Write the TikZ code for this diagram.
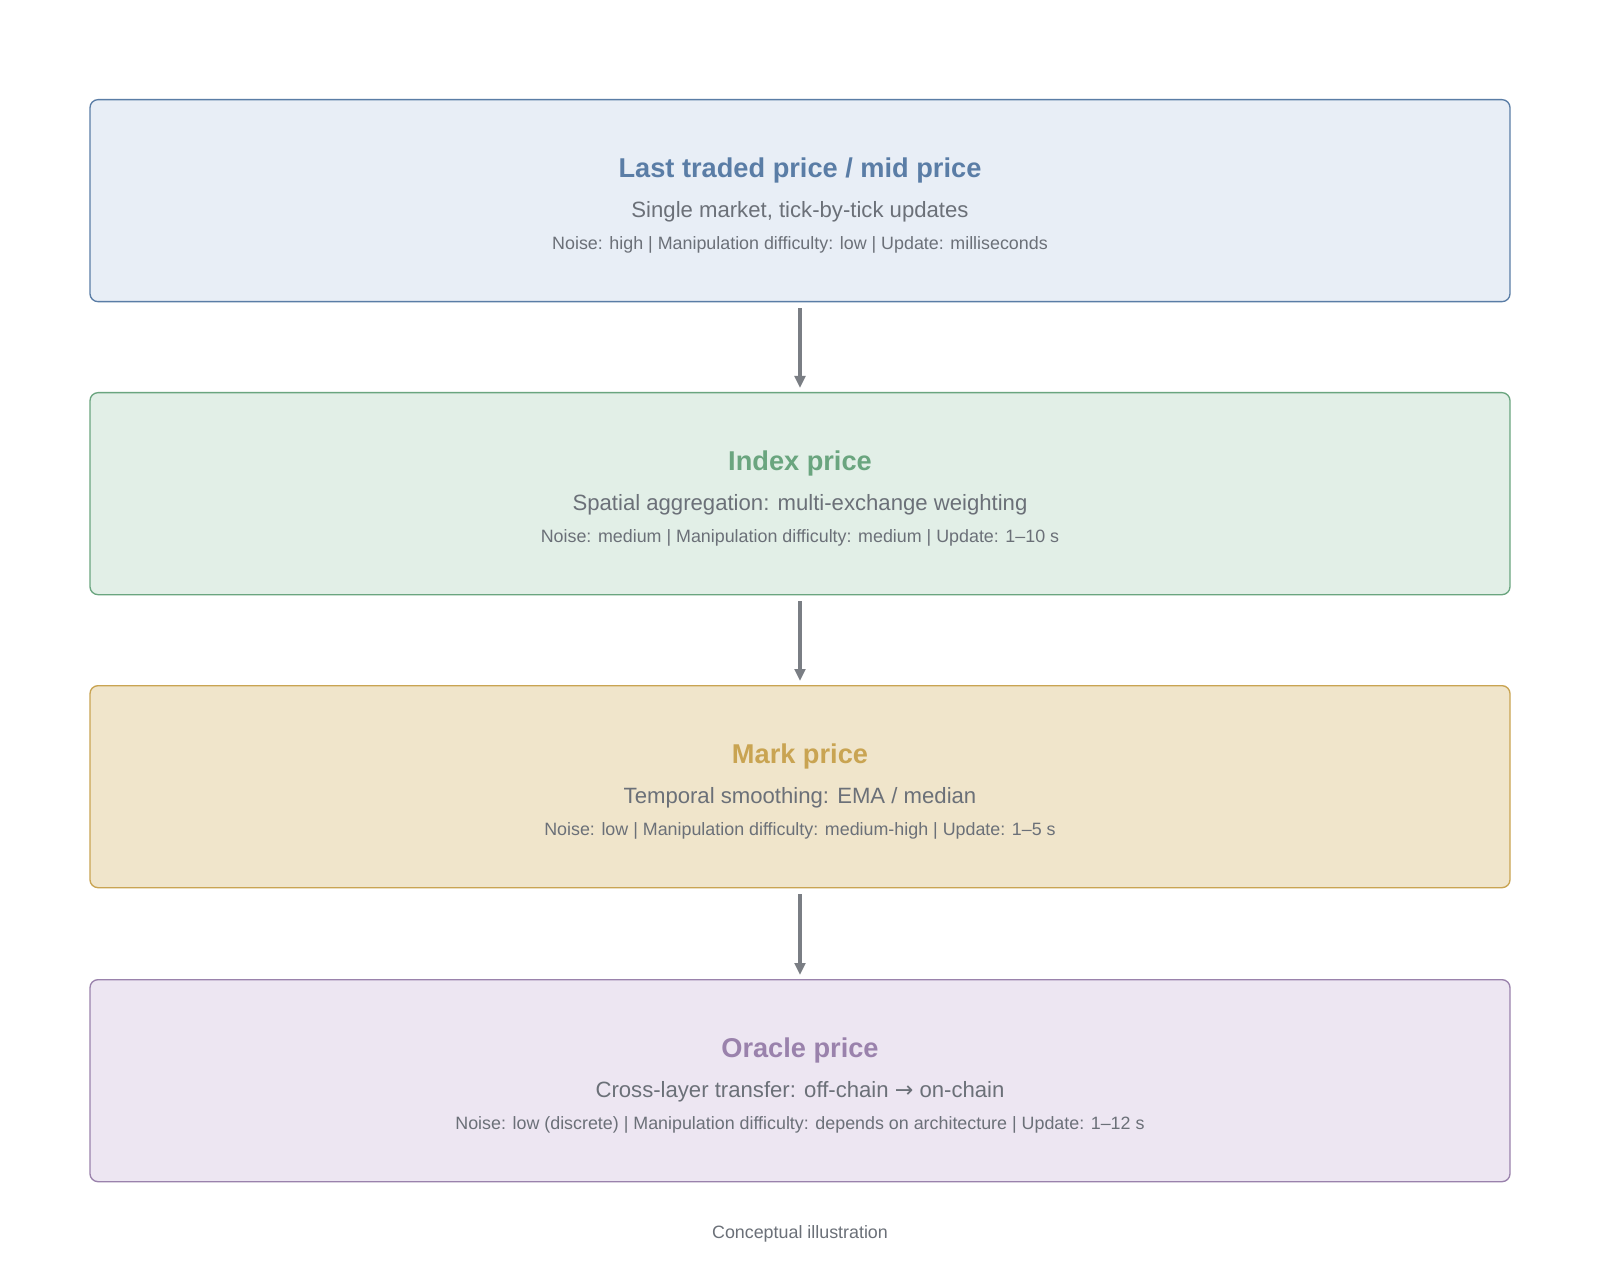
\documentclass[tikz,border=0pt]{standalone}
\usepackage{fontspec}
\setmainfont{Liberation Sans}
\newfontfamily\arrfont{DejaVu Sans}
\usetikzlibrary{arrows.meta}
\definecolor{txt}{HTML}{6B7078}
\definecolor{arr}{HTML}{7A7E84}
\definecolor{bA}{HTML}{E8EEF6}\definecolor{dA}{HTML}{5A7DA6}
\definecolor{bB}{HTML}{E2EFE7}\definecolor{dB}{HTML}{6AA57F}
\definecolor{bC}{HTML}{F0E5CB}\definecolor{dC}{HTML}{C9A452}
\definecolor{bD}{HTML}{EDE6F2}\definecolor{dD}{HTML}{9A82AC}
\begin{document}
\begin{tikzpicture}[x=0.75pt,y=-0.75pt,
 box/.style={draw=#1,line width=1pt,rounded corners=6pt,minimum width=1420*0.75pt,minimum height=202*0.75pt,inner sep=0pt},
 ttl/.style={font=\fontsize{20.4}{24}\selectfont\bfseries,text=#1},
 sub/.style={font=\fontsize{16.6}{20}\selectfont,text=txt},
 meta/.style={font=\fontsize{13.4}{16}\selectfont,text=txt},
 conn/.style={draw=arr,line width=2.3pt,-{Triangle[length=9pt,width=8pt]}}]
\useasboundingbox (0,0) rectangle (1600,1280);
\fill[white] (0,0) rectangle (1600,1280);
\foreach \n/\y/\c/\t/\s/\m in {
 a/99/A/{Last traded price / mid price}/{Single market, tick-by-tick updates}/{Noise: high | Manipulation difficulty: low | Update: milliseconds},
 b/392/B/{Index price}/{Spatial aggregation: multi-exchange weighting}/{Noise: medium | Manipulation difficulty: medium | Update: 1–10 s},
 c/685/C/{Mark price}/{Temporal smoothing: EMA / median}/{Noise: low | Manipulation difficulty: medium-high | Update: 1–5 s},
 d/979/D/{Oracle price}/{Cross-layer transfer: off-chain {\arrfont\char"2192} on-chain}/{Noise: low (discrete) | Manipulation difficulty: depends on architecture | Update: 1–12 s}}{
 \node[box=d\c,fill=b\c,anchor=north] (\n) at (800,\y) {};
 \node[ttl=d\c] (\n t) at (800,\y+71) {\t};
 \node[sub] (\n s) at (800,\y+113) {\s};
 \node[meta] (\n m) at (800,\y+146) {\m};
}
\draw[conn] ([yshift=-6*0.75pt]a.south) -- ([yshift=4*0.75pt]b.north);
\draw[conn] ([yshift=-6*0.75pt]b.south) -- ([yshift=4*0.75pt]c.north);
\draw[conn] ([yshift=-6*0.75pt]c.south) -- ([yshift=4*0.75pt]d.north);
\node[meta] (cap) at (800,1234) {Conceptual illustration};
\end{tikzpicture}
\end{document}
